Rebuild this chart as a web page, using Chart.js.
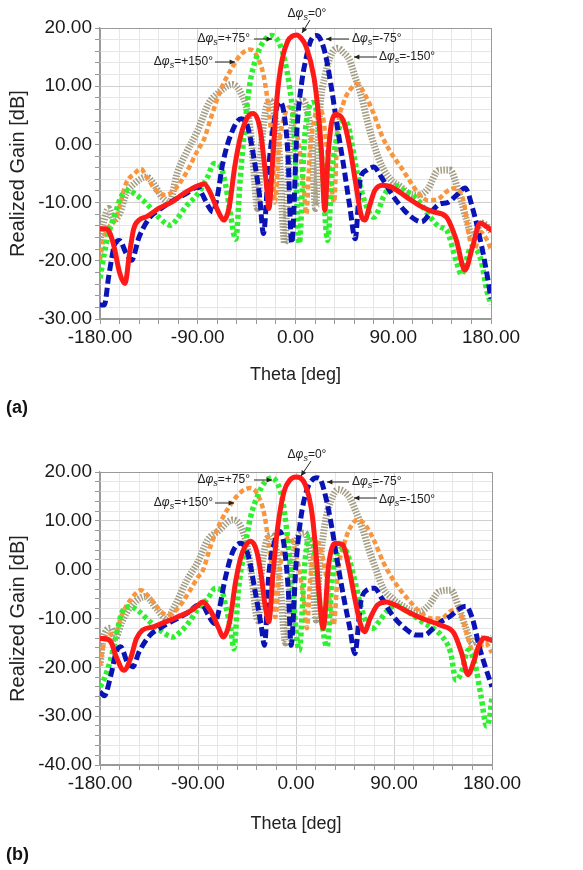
<!DOCTYPE html>
<html>
<head>
<meta charset="utf-8">
<script src="https://cdn.jsdelivr.net/npm/chart.js@4.4.0/dist/chart.umd.min.js"></script>
<style>
  body { margin: 0; background: #fff; width: 583px; height: 870px; position: relative; overflow: hidden; font-family: "Liberation Sans", Arial, sans-serif; }
  canvas { position: absolute; left: 0; }
  #chartA { top: 0; }
  #chartB { top: 440px; }
  .tag { position: absolute; left: 6px; font-weight: bold; font-size: 18px; color: #111; }
</style>
</head>
<body>
<canvas id="chartA" width="583" height="400"></canvas>
<canvas id="chartB" width="583" height="406"></canvas>
<div class="tag" style="top:397px">(a)</div>
<div class="tag" style="top:844px">(b)</div>
<script>
// [theta (deg), realized gain (dB)] for each phase step, pattern (a)
const gainA_0 = [[-180,-14.5],[-175,-14.5],[-171,-15.2],[-167,-17.6],[-162,-22],[-157,-23.9],[-153,-19],[-149,-14.5],[-144,-13],[-137,-12.4],[-126,-11],[-115,-10],[-101,-8.2],[-90,-7.1],[-84,-6.8],[-78,-8.5],[-71,-11.6],[-66,-13],[-61,-10.7],[-56,-3.9],[-50,1.8],[-44,4.7],[-39,5.3],[-33,3],[-29,-2.7],[-26,-8.5],[-24.5,-11],[-21,-2.7],[-17,8.1],[-12.5,14.4],[-7,17.8],[-3,18.6],[1,18.8],[5,18.3],[10,16.7],[17,11.5],[21,5.3],[24,-1.5],[27,-11.3],[30,-2],[33,3.5],[37,5.2],[44,4.1],[50,-0.5],[55,-6.2],[61,-12.5],[64,-13],[68,-10.7],[73,-7.9],[80,-7],[88,-7.3],[102,-9],[116,-10.7],[127,-11.6],[139,-12.5],[148,-16.4],[156,-21.6],[163,-17.6],[170,-13.5],[175,-14],[180,-14.7]];
const gainA_m75 = [[-180,-27.6],[-176,-27.6],[-172,-22.7],[-166,-17],[-162,-16.5],[-156,-18.7],[-151,-19.9],[-144,-15.9],[-134,-12.5],[-126,-11.3],[-115,-9.9],[-101,-8.5],[-90,-7.3],[-86,-8.5],[-80,-10.7],[-76,-11.6],[-72,-9],[-67,-3.3],[-58,2.4],[-50,4.4],[-44,3],[-39,-1.6],[-33,-9],[-29.5,-15.3],[-25,-4.5],[-19.5,4.1],[-15,7.3],[-11,5.8],[-7,-1.6],[-3.5,-17],[1.5,3],[6,11],[10,15],[14,17.8],[19,18.7],[22,18.4],[27.5,15.5],[33,9.8],[38.5,3],[44,-3.3],[50,-10.7],[55,-16.2],[59.5,-6.2],[65,-4.5],[72,-3.9],[79,-5.6],[88.5,-8.5],[100,-11.3],[111,-13],[116,-13.3],[125,-11.6],[133,-10.2],[140,-10],[148.5,-8.7],[156,-7.5],[163.5,-11.3],[171.5,-17.6],[176,-22],[180,-26.5]];
const gainA_p75 = [[-180,-23],[-176,-18.7],[-172,-15.3],[-166,-11.9],[-160.5,-9],[-153.5,-7.9],[-148,-8.5],[-137,-10.2],[-126,-12.5],[-115,-13.9],[-109,-12.8],[-101,-10.7],[-90,-8.5],[-81,-5.6],[-75,-3.3],[-69,-3.9],[-64,-7.3],[-60,-11.9],[-55,-16.3],[-51,-6.2],[-47,2.4],[-42,10.4],[-35,15.5],[-29,17.8],[-22,18.7],[-18,18.3],[-14,17],[-10,14.5],[-6,10.5],[-1.5,3],[3.5,-17],[8,0],[12,6],[16,7.2],[20,5],[24,-2],[29.5,-16.5],[34,-4],[39,2],[44,4],[48,3.5],[52,0],[57,-5],[64,-10],[72,-12.5],[76,-11.5],[81,-9],[90,-7],[99,-7.8],[113,-9.6],[122,-12],[133,-14.2],[139,-14.7],[148.5,-20.4],[153,-22.4],[157,-20],[162,-17.6],[166,-18],[171,-20],[176,-25],[180,-27.5]];
const gainA_m150 = [[-180,-16.5],[-177,-13.6],[-172,-11],[-167.5,-13],[-162,-11.9],[-156,-8.5],[-148,-6.7],[-137,-5.6],[-131,-6.7],[-123,-9],[-116,-9.9],[-109,-5],[-101,-1.6],[-90,2.4],[-80,7],[-72,8.7],[-58,10.3],[-50,8.7],[-44,5.3],[-40,-0.5],[-37.5,-6.7],[-35,-11],[-32,-1.6],[-28,5.3],[-23.5,7.5],[-19.5,5.3],[-15,-1.6],[-12.5,-10.7],[-10,-17],[-6,-2],[-2,4.5],[3,7.3],[7,7.5],[11,5.5],[15,0],[18.5,-11],[22,5],[27.5,12],[33,15.5],[39,16.5],[44,15.8],[50,14.4],[55,11.5],[61,8.1],[66,4.1],[73,-0.5],[80,-3.9],[88.5,-6.2],[97,-7.3],[105,-8.5],[113.5,-8.7],[122,-7.6],[131.5,-4.5],[142,-4.4],[151.5,-9],[157.5,-13],[163.5,-16],[171,-13.5],[176,-14],[180,-15]];
const gainA_p150 = [[-180,-19.9],[-177,-16.5],[-172,-14.2],[-166,-13],[-162,-10.7],[-156,-6.7],[-148,-5],[-142.5,-4.2],[-137,-5.6],[-128.5,-7.9],[-120,-8.7],[-112,-7.9],[-101,-5],[-90,-1],[-84,1],[-78,4.5],[-69,9.3],[-58,13.3],[-50,15.5],[-42,16.3],[-35,15],[-29,11.5],[-25,6.4],[-21,-1.6],[-19,-10],[-15,0],[-10,5],[-6,6.4],[-2,5],[3,0],[7,-6],[10,-12],[13,-2],[17,4],[21,6.4],[25,5],[28.5,0],[32,-5],[35.5,-10],[38.5,1.8],[44,7],[50,9.3],[57,10.4],[63.5,8.7],[72,5.3],[80,1.3],[88.5,-1.6],[97,-3.9],[105,-6.2],[113.5,-8.5],[122,-9.6],[130,-9.5],[140,-8],[148,-7.5],[155,-10],[160,-16],[165,-18],[170,-15],[175,-16],[180,-18]];

// pattern (b)
const gainB_0 = [[-180,-14.1],[-176,-14.1],[-170,-14.8],[-165,-17.9],[-158,-20.6],[-152,-18.2],[-146.5,-14.1],[-141,-12.4],[-131,-11.7],[-120,-10.7],[-109,-9.7],[-98,-8.6],[-90,-7.3],[-86,-6.6],[-78,-8.6],[-71,-12],[-67,-13.8],[-61,-10.7],[-55.5,-2.5],[-50,3],[-41.5,5.8],[-36,3.7],[-32,-1.1],[-28,-7.9],[-25,-10.7],[-21,-0.4],[-16.5,9.2],[-11,16],[-5.5,18.4],[0,19],[4,18.8],[8.5,17.4],[14,12.6],[18,4.4],[21,-4.5],[25,-12],[30,1],[36,5.4],[43,5.1],[48,1],[54,-5.9],[59.5,-11.4],[63,-12.7],[68,-10],[74.5,-7.3],[83,-6.6],[91.5,-7.3],[102.5,-8.6],[116,-10],[133,-11.4],[145,-13],[152,-17],[158,-21.5],[163,-19],[168,-15.5],[173,-14],[180,-14.5]];
const gainB_m75 = [[-180,-25],[-176,-25.8],[-170,-21.6],[-165,-16.8],[-161,-15.8],[-155,-18.9],[-150,-19.9],[-144,-16.8],[-134,-13.4],[-123,-11.7],[-109,-10],[-98,-8.6],[-90,-7.3],[-86,-7.3],[-80.5,-9.3],[-75,-11],[-71,-8.6],[-65,-1.8],[-58,3.7],[-51,5.4],[-44,3],[-37.5,-4.5],[-32,-11.4],[-29,-15.5],[-25,-1.1],[-19.5,5.8],[-15,7.8],[-11,5.1],[-7,-4.5],[-4.5,-15.5],[0,1],[4,9.9],[9.5,16],[15,18.4],[19.5,18.8],[22,18.6],[27.5,14.7],[33,8.5],[38.5,1],[44,-5.9],[49.5,-12],[54,-17.2],[59.5,-6.6],[65,-4.2],[72,-3.8],[79,-5.9],[88.5,-9.3],[100,-12],[111,-13.4],[118,-13.4],[126,-12],[133,-10.7],[142,-9.5],[150,-8],[156,-7.5],[162,-10],[168,-15.5],[174,-20],[180,-24]];
const gainB_p75 = [[-180,-24],[-176,-22.3],[-170,-18.2],[-165,-13.4],[-159.5,-8.6],[-152,-7.6],[-144,-8.6],[-134,-10.7],[-123,-12.7],[-113,-13.8],[-106,-12.7],[-98,-10.7],[-90,-8],[-81,-5.9],[-74,-3.8],[-68,-4.5],[-64,-8],[-60,-12],[-57,-16.2],[-53,-4.5],[-47,4.4],[-42,10.5],[-35,15.3],[-28,18.1],[-22,18.8],[-16.5,17.4],[-12.5,14.5],[-8.5,8],[-4,-2],[3,-16.5],[8,1],[12.5,7.1],[18,2.3],[22,-7.3],[28.5,-15.8],[33,-2.5],[38.5,3.7],[44,4.4],[49.5,1.6],[55,-3.2],[61,-8.6],[66,-11.4],[70.5,-12],[76,-10.7],[83,-8.6],[91.5,-7.3],[102.5,-8.6],[116,-10.7],[133,-13.4],[142,-17],[147,-22.6],[152,-21],[158,-16.5],[164,-19],[170,-26],[175,-32],[178,-30],[180,-26]];
const gainB_m150 = [[-180,-19.6],[-177,-14.1],[-170,-12],[-166,-14.1],[-160,-10.7],[-151,-7.3],[-138,-5.5],[-128,-8],[-119,-10],[-111,-7.3],[-101,-2.5],[-90,1.6],[-81,6.1],[-72,7.8],[-58,10.2],[-50,8.5],[-44,3.7],[-40,-2.5],[-36.5,-9.3],[-34.5,-10.5],[-32,-1.1],[-28,5.1],[-23,7.1],[-18,3.7],[-14,-4.5],[-11,-13],[-9.5,-15],[-5,-2],[-1,4.5],[4,7.3],[8,7.5],[12,5],[15.5,-1],[18.5,-10.3],[21,-1],[23.5,4.4],[27.5,10.5],[33,14.7],[38.5,16.4],[44,16],[49.5,14.7],[55,11.9],[61,8.5],[66.5,4.4],[73,0.3],[80,-3.8],[88.5,-5.9],[97,-7.3],[105,-8.3],[113.5,-8.6],[122,-7.3],[131.5,-4.5],[142,-4.2],[150,-8],[156,-12],[162,-15],[168,-14],[174,-14.5],[180,-14]];
const gainB_p150 = [[-180,-19.6],[-177,-15.5],[-172,-13.4],[-165,-12.7],[-160,-9.3],[-151,-5.9],[-142.5,-4.2],[-134,-5.9],[-124,-8.6],[-117.5,-9.3],[-109,-8],[-98,-4.5],[-90,-1.5],[-86,-0.4],[-78,5.1],[-69,9.9],[-58,14],[-50,16],[-42,16.7],[-35,15.3],[-29,11.2],[-25,5.1],[-21,-2.5],[-19,-9.7],[-15,0],[-10,5.5],[-6,6.7],[-2,5],[3,0],[7,-6],[10,-12],[13,-2],[17,4],[20,5.5],[23,4],[27.5,-1.1],[31.5,-7.3],[34.5,-11.4],[38.5,-0.4],[44,5.1],[49.5,8.5],[56.5,10.2],[63.5,9.2],[72,5.8],[80,1.6],[88.5,-1.8],[97,-4.5],[105,-6.6],[113.5,-8.6],[124.5,-10],[133,-10],[142,-8.5],[148,-8],[153,-10],[158,-14],[163,-17],[168,-16],[174,-15],[180,-17]];

const phaseLabels = ["Δφs=0°", "Δφs=-75°", "Δφs=+75°", "Δφs=-150°", "Δφs=+150°"];
const thetaTicks = [-180, -90, 0, 90, 180];

// line look per phase step: red solid, blue dash, green dots, khaki hatch, orange dash
const looks = [
  { color: "#ff1a1a", width: 5, dash: [], order: 1 },
  { color: "#0a14b4", width: 5, dash: [9, 4], order: 2 },
  { color: "#2ef02e", width: 5.5, dash: [4, 3], order: 3 },
  { color: "#a39d84", width: 7, dash: [1.5, 1.5], order: 5 },
  { color: "#f7963e", width: 4.5, dash: [5, 3], order: 4 }
];

function toPoints(pairs) {
  return pairs.map(p => ({ x: p[0], y: p[1] }));
}

function makeDatasets(seriesList) {
  return seriesList.map((pairs, i) => ({
    label: phaseLabels[i],
    data: toPoints(pairs),
    borderColor: looks[i].color,
    borderWidth: looks[i].width,
    borderDash: looks[i].dash,
    borderCapStyle: looks[i].dash.length ? "butt" : "round",
    borderJoinStyle: "round",
    pointRadius: 0,
    fill: false,
    cubicInterpolationMode: "monotone",
    order: looks[i].order
  }));
}

// phase-step callouts with arrows
function drawPhaseText(ctx, value, x, y, align) {
  const parts = [
    { t: "Δ", f: "12px 'Liberation Sans', Arial", dy: 0 },
    { t: "φ", f: "italic 12px 'Liberation Sans', Arial", dy: 0 },
    { t: "s", f: "italic 9px 'Liberation Sans', Arial", dy: 3 },
    { t: "=" + value, f: "12px 'Liberation Sans', Arial", dy: 0 }
  ];
  let total = 0;
  parts.forEach(p => { ctx.font = p.f; p.w = ctx.measureText(p.t).width; total += p.w; });
  let cx = align === "right" ? x - total : align === "center" ? x - total / 2 : x;
  ctx.textBaseline = "middle";
  ctx.textAlign = "left";
  parts.forEach(p => {
    ctx.font = p.f;
    ctx.fillText(p.t, cx, y + p.dy);
    cx += p.w;
  });
}

function drawArrow(ctx, x1, y1, x2, y2) {
  ctx.beginPath();
  ctx.moveTo(x1, y1);
  ctx.lineTo(x2, y2);
  ctx.stroke();
  const a = Math.atan2(y2 - y1, x2 - x1);
  ctx.beginPath();
  ctx.moveTo(x2, y2);
  ctx.lineTo(x2 - 6 * Math.cos(a - 0.45), y2 - 6 * Math.sin(a - 0.45));
  ctx.lineTo(x2 - 6 * Math.cos(a + 0.45), y2 - 6 * Math.sin(a + 0.45));
  ctx.closePath();
  ctx.fill();
}

const phaseNotes = {
  id: "phaseNotes",
  afterDraw(chart, args, opts) {
    const ctx = chart.ctx;
    ctx.save();
    ctx.fillStyle = "#222";
    ctx.strokeStyle = "#222";
    ctx.lineWidth = 1;
    opts.items.forEach(n => {
      drawPhaseText(ctx, n.value, n.tx, n.ty, n.align);
      drawArrow(ctx, n.ax, n.ay, n.bx, n.by);
    });
    ctx.restore();
  }
};

function gridColor(edges, major) {
  return ctx => {
    const v = ctx.tick ? ctx.tick.value : null;
    if (edges.includes(v)) return "#9a9a9a";
    if (v % major === 0) return "#cfcfcf";
    return "#e6e6e6";
  };
}

function buildChart(id, seriesList, yMin, padTop, padRight, titlePad, notes) {
  new Chart(document.getElementById(id), {
    type: "line",
    data: { datasets: makeDatasets(seriesList) },
    plugins: [phaseNotes],
    options: {
      responsive: false,
      animation: false,
      events: [],
      layout: { padding: { left: 0, right: padRight, top: padTop, bottom: 0 } },
      plugins: {
        legend: { display: false },
        tooltip: { enabled: false },
        phaseNotes: { items: notes }
      },
      scales: {
        x: {
          type: "linear",
          min: -180,
          max: 180,
          afterFit: s => { s.height = 81; },
          ticks: {
            stepSize: 18,
            autoSkip: false,
            maxRotation: 0,
            padding: 2,
            color: "#1a1a1a",
            font: { size: 19, family: "'Liberation Sans', Arial" },
            callback: v => thetaTicks.includes(v) ? v.toFixed(2) : ""
          },
          grid: { color: gridColor([-180, 180], 90), tickColor: "#999", tickLength: 5, lineWidth: 1 },
          border: { color: "#9a9a9a", width: 1.2 },
          title: {
            display: true,
            text: "Theta [deg]",
            color: "#222",
            font: { size: 18, family: "'Liberation Sans', Arial" },
            padding: { top: 0, bottom: titlePad }
          }
        },
        y: {
          min: yMin,
          max: 20,
          afterFit: s => { s.width = 100; },
          ticks: {
            stepSize: 2,
            autoSkip: false,
            padding: 3,
            color: "#1a1a1a",
            font: { size: 19, family: "'Liberation Sans', Arial" },
            callback: v => v % 10 === 0 ? v.toFixed(2) : ""
          },
          grid: { color: gridColor([yMin, 20], 10), tickColor: "#999", tickLength: 5, lineWidth: 1 },
          border: { color: "#9a9a9a", width: 1.2 },
          title: {
            display: true,
            text: "Realized Gain [dB]",
            color: "#222",
            font: { size: 20, family: "'Liberation Sans', Arial" },
            padding: { top: 6, bottom: 0 }
          }
        }
      }
    }
  });
}

const notesA = [
  { value: "0°", tx: 307, ty: 14, align: "center", ax: 310, ay: 20, bx: 302, by: 33 },
  { value: "+75°", tx: 250, ty: 39, align: "right", ax: 254, ay: 39, bx: 272, by: 39 },
  { value: "-75°", tx: 352, ty: 39, align: "left", ax: 349, ay: 39, bx: 326, by: 39 },
  { value: "+150°", tx: 213, ty: 62, align: "right", ax: 215, ay: 62, bx: 235, by: 62 },
  { value: "-150°", tx: 379, ty: 57, align: "left", ax: 377, ay: 57, bx: 354, by: 57 }
];
const notesB = [
  { value: "0°", tx: 307, ty: 15, align: "center", ax: 311, ay: 21, bx: 301, by: 36 },
  { value: "+75°", tx: 250, ty: 40, align: "right", ax: 254, ay: 40, bx: 272, by: 40 },
  { value: "-75°", tx: 352, ty: 42, align: "left", ax: 349, ay: 42, bx: 327, by: 42 },
  { value: "+150°", tx: 213, ty: 63, align: "right", ax: 215, ay: 63, bx: 234, by: 63 },
  { value: "-150°", tx: 379, ty: 60, align: "left", ax: 377, ay: 58, bx: 354, by: 58 }
];

buildChart("chartA", [gainA_0, gainA_m75, gainA_p75, gainA_m150, gainA_p150], -30, 28, 92, 14, notesA);
buildChart("chartB", [gainB_0, gainB_m75, gainB_p75, gainB_m150, gainB_p150], -40, 32, 91, 11, notesB);
</script>
</body>
</html>
